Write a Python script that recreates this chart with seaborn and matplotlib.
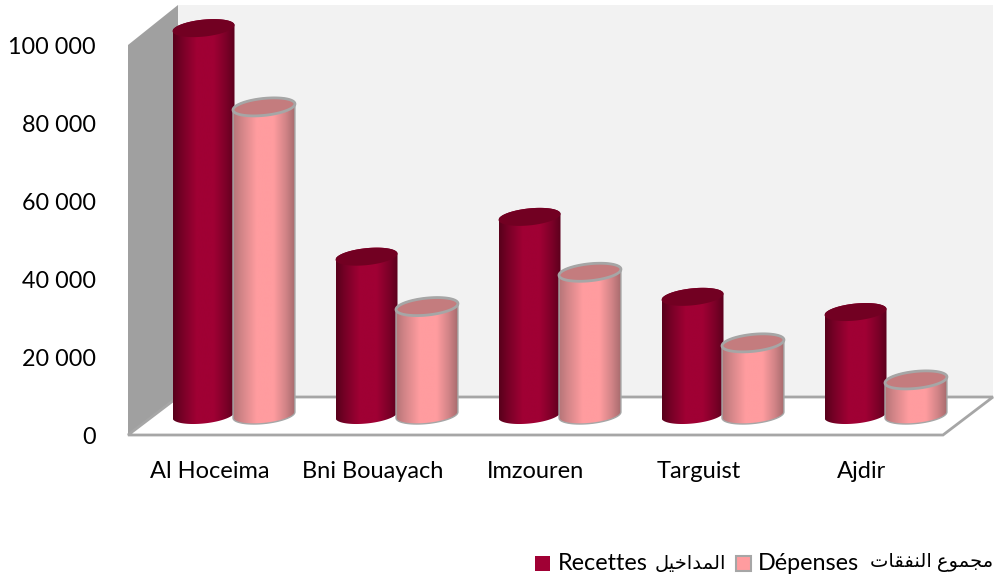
import numpy as np
import pandas as pd
import seaborn as sns
import matplotlib.pyplot as plt
from matplotlib.colors import LinearSegmentedColormap
from matplotlib.patches import Polygon, PathPatch, Rectangle
from matplotlib.path import Path

sns.set_theme(style="white")
plt.rcParams['font.family'] = ['Lato', 'DejaVu Sans']

cities = ["Al Hoceima", "Bni Bouayach", "Imzouren", "Targuist", "Ajdir"]
recettes = [99200, 40600, 50800, 30300, 26400]
depenses = [79000, 27800, 36600, 18500, 9000]
y_ticks = [0, 20000, 40000, 60000, 80000, 100000]
y_labels = ["0", "20 000", "40 000", "60 000", "80 000", "100 000"]
series = ["Recettes", "Dépenses"]
# arabic is written as shaped forms in visual order, matplotlib does no shaping
arabic_rec = "\ufede\ufef4\ufea7\ufe8d\ufeaa\ufee4\ufedf\ufe8d"
arabic_dep = "\ufe95\ufe8e\ufed8\ufed4\ufee8\ufedf\ufe8d \ufec9\ufeee\ufee4\ufea0\ufee3"

df = pd.DataFrame({
    "city": cities * 2,
    "value": recettes + depenses,
    "serie": [series[0]] * 5 + [series[1]] * 5,
})

W, H = 997, 580
RED, PINK, EDGE = "#a00034", "#ff9c9f", "#a6a6a6"
fig = plt.figure(figsize=(W / 100, H / 100), dpi=100, facecolor="white")


def px_axes(left, top, right, bottom):
    return fig.add_axes([left / W, 1 - bottom / H, (right - left) / W, (bottom - top) / H])


# box of the 3d chart, in pixels
bg = px_axes(0, 0, W, H)
bg.set_xlim(0, W)
bg.set_ylim(H, 0)
bg.axis("off")
bg.add_patch(Polygon([(178, 5), (993, 5), (993, 397), (178, 397)], fc="#f2f2f2", ec="none"))
bg.add_patch(Polygon([(128, 45), (178, 5), (178, 397), (128, 435)], fc="#a0a0a0", ec="none"))
bg.add_patch(Polygon([(128, 435), (178, 397), (993, 397), (943, 435)], fc="white", ec=EDGE, lw=2))

# legend, placed piece by piece since the arabic font runs wider than the latin one
bg.add_patch(Rectangle((535, 556), 15, 15, fc=RED, ec="none"))
bg.add_patch(Rectangle((736, 556), 15, 15, fc=PINK, ec=EDGE, lw=1.5))
bg.text(558, 563, series[0], fontsize=16.8, color="black", va="center")
bg.text(655, 563, arabic_rec, fontsize=14, color="black", va="center")
bg.text(758, 563, series[1], fontsize=16.8, color="black", va="center")
bg.text(870, 563, arabic_dep, fontsize=14, color="black", va="center")

# front plane: only ticks and labels
front = px_axes(128, 45, 943, 435)
front.patch.set_alpha(0)
front.set_xlim(-0.5, 4.5)
front.set_ylim(0, 100000)
front.set_yticks(y_ticks, y_labels, fontsize=16.8, color="black")
front.set_xticks(range(5), cities, fontsize=17, color="black")
front.tick_params(axis="y", length=0, pad=23)
front.tick_params(axis="x", length=0, pad=19)
sns.despine(ax=front, left=True, bottom=True)

# bars stand half way in the depth of the box, axes is taller so the caps fit
px_per_unit = 3.9 / 1000
y_low, y_high = -8000, 108000
ax = px_axes(153, 415 - y_high * px_per_unit, 968, 415 - y_low * px_per_unit)
ax.patch.set_alpha(0)
sns.barplot(data=df, x="city", y="value", hue="serie", palette=[RED, PINK],
            width=0.76, gap=0, saturation=1, legend=False, ax=ax)

red_map = LinearSegmentedColormap.from_list("r", [(0, "#58001b"), (0.14, "#760026"), (0.38, "#a00034"),
                                                  (0.66, "#a00034"), (0.86, "#7c0028"), (1, "#5c001d")])
pink_map = LinearSegmentedColormap.from_list("p", [(0, "#b57578"), (0.14, "#d38588"), (0.38, "#ff9c9f"),
                                                   (0.66, "#ff9c9f"), (0.86, "#d08386"), (1, "#a86c6e")])
b = 8.5 / px_per_unit
shear = 3.0 / px_per_unit
pink_shift = -1.5 / 163


def ring(x0, w, yc, t):
    return x0 + w / 2 + w / 2 * np.cos(t), yc + b * np.sin(t) + shear * np.cos(t)


styles = [(red_map, "#720022", "none", 0, 0), (pink_map, "#c47c7e", EDGE, 1.0, pink_shift)]
for container, (cmap, top_col, edge, lw, shift) in zip(ax.containers, styles):
    for bar in container:
        x0, w, h = bar.get_x() + shift, bar.get_width(), bar.get_height()
        bar.set_visible(False)
        low = np.linspace(np.pi, 2 * np.pi, 60)
        high = np.linspace(0, np.pi, 60)
        bx, by = ring(x0, w, 0, low)
        tx, ty = ring(x0, w, h, high)
        outline = np.column_stack([np.r_[bx, tx], np.r_[by, ty]])
        shape = PathPatch(Path(np.vstack([outline, outline[:1]])), transform=ax.transData,
                          fc="none", ec=edge, lw=lw, zorder=4, joinstyle="round")
        ax.add_patch(shape)
        shade = np.linspace(0, 1, 128).reshape(1, -1)
        im = ax.imshow(shade, cmap=cmap, extent=[x0, x0 + w, y_low, h + 2 * b], aspect="auto", zorder=3,
                       interpolation="bilinear")
        im.set_clip_path(shape)
        t = np.linspace(0, 2 * np.pi, 120)
        ex, ey = ring(x0, w, h, t)
        ax.add_patch(Polygon(np.column_stack([ex, ey]), fc=top_col, ec=edge, lw=lw * 2, zorder=5))
ax.set_xlim(-0.5, 4.5)
ax.set_ylim(y_low, y_high)
ax.axis("off")

fig.savefig("out.png", dpi=100)
